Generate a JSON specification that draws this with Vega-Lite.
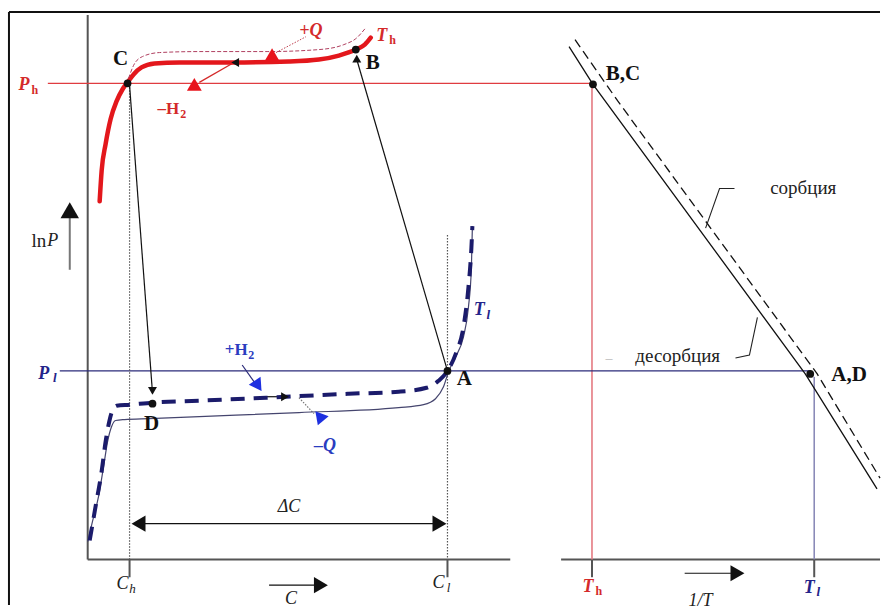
{
  "$schema": "https://vega.github.io/schema/vega-lite/v6.json",
  "width": 883,
  "height": 610,
  "padding": 0,
  "autosize": {"type": "fit", "contains": "padding"},
  "background": "white",
  "config": {"view": {"stroke": null}, "text": {"font": "'Liberation Serif', 'DejaVu Serif', serif"}},
  "encoding": {
    "x": {"field": "x", "type": "quantitative", "scale": {"domain": [0, 883], "nice": false, "zero": false}, "axis": null},
    "y": {"field": "y", "type": "quantitative", "scale": {"domain": [0, 610], "nice": false, "zero": false, "reverse": true}, "axis": null}
  },
  "layer": [
    {
      "data": {"values": [{"x": 9, "y": 12, "x2": 883, "y2": 12}, {"x": 9, "y": 12, "x2": 9, "y2": 610}]},
      "mark": {"type": "rule", "color": "#111", "strokeWidth": 2},
      "encoding": {"x2": {"field": "x2"}, "y2": {"field": "y2"}}
    },
    {
      "data": {"values": [
        {"x": 88, "y": 15, "x2": 88, "y2": 564},
        {"x": 88, "y": 564, "x2": 512, "y2": 564},
        {"x": 563, "y": 564, "x2": 883, "y2": 564},
        {"x": 130, "y": 564, "x2": 130, "y2": 582},
        {"x": 449, "y": 564, "x2": 449, "y2": 582},
        {"x": 594, "y": 564, "x2": 594, "y2": 582},
        {"x": 817, "y": 564, "x2": 817, "y2": 582}
      ]},
      "mark": {"type": "rule", "color": "#555", "strokeWidth": 2},
      "encoding": {"x2": {"field": "x2"}, "y2": {"field": "y2"}}
    },
    {
      "data": {"values": [{"x": 48, "y": 84, "x2": 594, "y2": 84}]},
      "mark": {"type": "rule", "color": "#e03c40", "strokeWidth": 1.3},
      "encoding": {"x2": {"field": "x2"}, "y2": {"field": "y2"}}
    },
    {
      "data": {"values": [{"x": 594, "y": 84, "x2": 594, "y2": 564}]},
      "mark": {"type": "rule", "color": "#e57a82", "strokeWidth": 1.6},
      "encoding": {"x2": {"field": "x2"}, "y2": {"field": "y2"}}
    },
    {
      "data": {"values": [{"x": 60, "y": 374, "x2": 813, "y2": 374}]},
      "mark": {"type": "rule", "color": "#2b2b7a", "strokeWidth": 1.2},
      "encoding": {"x2": {"field": "x2"}, "y2": {"field": "y2"}}
    },
    {
      "data": {"values": [{"x": 817, "y": 380, "x2": 817, "y2": 564}]},
      "mark": {"type": "rule", "color": "#8a8ab8", "strokeWidth": 1.6},
      "encoding": {"x2": {"field": "x2"}, "y2": {"field": "y2"}}
    },
    {
      "data": {"values": [{"x": 130, "y": 88, "x2": 130, "y2": 564}, {"x": 449, "y": 237, "x2": 449, "y2": 564}]},
      "mark": {"type": "rule", "color": "#555", "strokeWidth": 1.2, "strokeDash": [1.5, 1.5]},
      "encoding": {"x2": {"field": "x2"}, "y2": {"field": "y2"}}
    },
    {
      "data": {"values": [
        {"x": 130, "y": 86, "x2": 153, "y2": 396},
        {"x": 449, "y": 374, "x2": 358, "y2": 60},
        {"x": 140, "y": 528, "x2": 440, "y2": 528},
        {"x": 270, "y": 590, "x2": 318, "y2": 590},
        {"x": 687, "y": 578, "x2": 736, "y2": 578},
        {"x": 262, "y": 400, "x2": 282, "y2": 400},
        {"x": 240, "y": 63, "x2": 252, "y2": 63}
      ]},
      "mark": {"type": "rule", "color": "#111", "strokeWidth": 1.2},
      "encoding": {"x2": {"field": "x2"}, "y2": {"field": "y2"}}
    },
    {
      "data": {"values": [{"x": 70, "y": 272, "x2": 70, "y2": 215}]},
      "mark": {"type": "rule", "color": "#777", "strokeWidth": 2},
      "encoding": {"x2": {"field": "x2"}, "y2": {"field": "y2"}}
    },
    {
      "data": {"values": [{"x": 233, "y": 64, "x2": 200, "y2": 83}]},
      "mark": {"type": "rule", "color": "#d42a2a", "strokeWidth": 1.3},
      "encoding": {"x2": {"field": "x2"}, "y2": {"field": "y2"}}
    },
    {
      "data": {"values": [{"x": 277, "y": 53, "x2": 307, "y2": 37}]},
      "mark": {"type": "rule", "color": "#c04050", "strokeWidth": 1, "strokeDash": [1.5, 1.5]},
      "encoding": {"x2": {"field": "x2"}, "y2": {"field": "y2"}}
    },
    {
      "data": {"values": [{"x": 243, "y": 368, "x2": 255, "y2": 385}]},
      "mark": {"type": "rule", "color": "#2b2b7a", "strokeWidth": 1.2},
      "encoding": {"x2": {"field": "x2"}, "y2": {"field": "y2"}}
    },
    {
      "data": {"values": [{"x": 300, "y": 401, "x2": 315, "y2": 417}]},
      "mark": {"type": "rule", "color": "#777", "strokeWidth": 1.2, "strokeDash": [1.5, 1.5]},
      "encoding": {"x2": {"field": "x2"}, "y2": {"field": "y2"}}
    },
    {
      "data": {"values": [
        {"o": 0, "x": 100, "y": 203}, {"o": 1, "x": 102, "y": 172}, {"o": 2, "x": 106, "y": 145},
        {"o": 3, "x": 111, "y": 120}, {"o": 4, "x": 117, "y": 102}, {"o": 5, "x": 123, "y": 90},
        {"o": 6, "x": 128, "y": 83}, {"o": 7, "x": 134, "y": 75}, {"o": 8, "x": 142, "y": 68},
        {"o": 9, "x": 155, "y": 64}, {"o": 10, "x": 180, "y": 63}, {"o": 11, "x": 233, "y": 63},
        {"o": 12, "x": 290, "y": 62}, {"o": 13, "x": 320, "y": 60}, {"o": 14, "x": 340, "y": 56},
        {"o": 15, "x": 357, "y": 50}, {"o": 16, "x": 366, "y": 45}, {"o": 17, "x": 372, "y": 38}
      ]},
      "mark": {"type": "line", "interpolate": "monotone", "color": "#e3171c", "strokeWidth": 4.5, "strokeCap": "round"},
      "encoding": {"order": {"field": "o"}}
    },
    {
      "data": {"values": [
        {"o": 0, "x": 129, "y": 79}, {"o": 1, "x": 134, "y": 66}, {"o": 2, "x": 143, "y": 57},
        {"o": 3, "x": 160, "y": 53}, {"o": 4, "x": 200, "y": 52}, {"o": 5, "x": 268, "y": 52},
        {"o": 6, "x": 320, "y": 50}, {"o": 7, "x": 345, "y": 45}, {"o": 8, "x": 357, "y": 39},
        {"o": 9, "x": 367, "y": 28}
      ]},
      "mark": {"type": "line", "interpolate": "monotone", "color": "#b04060", "strokeWidth": 1, "strokeDash": [4, 2]},
      "encoding": {"order": {"field": "o"}}
    },
    {
      "data": {"values": [
        {"o": 0, "x": 88, "y": 546}, {"o": 1, "x": 93, "y": 525}, {"o": 2, "x": 99, "y": 500},
        {"o": 3, "x": 104, "y": 470}, {"o": 4, "x": 108, "y": 445}, {"o": 5, "x": 112, "y": 430},
        {"o": 6, "x": 116, "y": 424}, {"o": 7, "x": 125, "y": 423}, {"o": 8, "x": 150, "y": 422},
        {"o": 9, "x": 200, "y": 420}, {"o": 10, "x": 300, "y": 416}, {"o": 11, "x": 400, "y": 411},
        {"o": 12, "x": 425, "y": 408}, {"o": 13, "x": 437, "y": 402}, {"o": 14, "x": 445, "y": 390},
        {"o": 15, "x": 450, "y": 375}, {"o": 16, "x": 457, "y": 360}, {"o": 17, "x": 465, "y": 340},
        {"o": 18, "x": 470, "y": 310}, {"o": 19, "x": 473, "y": 270}, {"o": 20, "x": 474, "y": 228}
      ]},
      "mark": {"type": "line", "interpolate": "monotone", "color": "#45456e", "strokeWidth": 1.2},
      "encoding": {"order": {"field": "o"}}
    },
    {
      "data": {"values": [
        {"o": 0, "x": 90, "y": 545}, {"o": 1, "x": 96, "y": 510}, {"o": 2, "x": 102, "y": 475},
        {"o": 3, "x": 106, "y": 445}, {"o": 4, "x": 109, "y": 428}, {"o": 5, "x": 112, "y": 416},
        {"o": 6, "x": 117, "y": 409}, {"o": 7, "x": 130, "y": 408}, {"o": 8, "x": 153, "y": 406},
        {"o": 9, "x": 200, "y": 404}, {"o": 10, "x": 267, "y": 401}, {"o": 11, "x": 350, "y": 397},
        {"o": 12, "x": 400, "y": 395}, {"o": 13, "x": 428, "y": 391}, {"o": 14, "x": 440, "y": 384},
        {"o": 15, "x": 449, "y": 374}, {"o": 16, "x": 458, "y": 355}, {"o": 17, "x": 465, "y": 330},
        {"o": 18, "x": 470, "y": 290}, {"o": 19, "x": 473, "y": 250}, {"o": 20, "x": 474, "y": 228}
      ]},
      "mark": {"type": "line", "interpolate": "monotone", "color": "#1b1b6b", "strokeWidth": 4, "strokeDash": [14, 9]},
      "encoding": {"order": {"field": "o"}}
    },
    {
      "data": {"values": [
        {"o": 0, "x": 571, "y": 47}, {"o": 1, "x": 595, "y": 85}, {"o": 2, "x": 808, "y": 377}, {"o": 3, "x": 880, "y": 493}
      ]},
      "mark": {"type": "line", "color": "#111", "strokeWidth": 1.3},
      "encoding": {"order": {"field": "o"}}
    },
    {
      "data": {"values": [
        {"o": 0, "x": 577, "y": 40}, {"o": 1, "x": 620, "y": 102}, {"o": 2, "x": 820, "y": 377}, {"o": 3, "x": 883, "y": 482}
      ]},
      "mark": {"type": "line", "color": "#111", "strokeWidth": 1.3, "strokeDash": [9, 5]},
      "encoding": {"order": {"field": "o"}}
    },
    {
      "data": {"values": [
        {"id": "s", "o": 0, "x": 737, "y": 190}, {"id": "s", "o": 1, "x": 722, "y": 190}, {"id": "s", "o": 2, "x": 708, "y": 230},
        {"id": "d", "o": 0, "x": 738, "y": 361}, {"id": "d", "o": 1, "x": 752, "y": 358}, {"id": "d", "o": 2, "x": 760, "y": 320}
      ]},
      "mark": {"type": "line", "color": "#222", "strokeWidth": 1.1},
      "encoding": {"order": {"field": "o"}, "detail": {"field": "id"}}
    },
    {
      "data": {"values": [
        {"x": 139, "y": 528, "dir": "left"}, {"x": 441, "y": 528, "dir": "right"},
        {"x": 322, "y": 590, "dir": "right"}, {"x": 740, "y": 578, "dir": "right"}
      ]},
      "mark": {"type": "point", "filled": true, "color": "#111", "size": 260, "opacity": 1},
      "encoding": {"shape": {"field": "dir", "type": "nominal", "scale": {"domain": ["up", "down", "left", "right"], "range": ["triangle-up", "triangle-down", "triangle-left", "triangle-right"]}, "legend": null}}
    },
    {
      "data": {"values": [
        {"x": 70, "y": 212, "dir": "up"}
      ]},
      "mark": {"type": "point", "filled": true, "color": "#111", "size": 340, "opacity": 1},
      "encoding": {"shape": {"field": "dir", "type": "nominal", "scale": {"domain": ["up", "down", "left", "right"], "range": ["triangle-up", "triangle-down", "triangle-left", "triangle-right"]}, "legend": null}}
    },
    {
      "data": {"values": [
        {"x": 153, "y": 394, "dir": "down"}, {"x": 358, "y": 59, "dir": "up"},
        {"x": 286, "y": 400, "dir": "right"}, {"x": 236, "y": 63, "dir": "left"}
      ]},
      "mark": {"type": "point", "filled": true, "color": "#111", "size": 80, "opacity": 1},
      "encoding": {"shape": {"field": "dir", "type": "nominal", "scale": {"domain": ["up", "down", "left", "right"], "range": ["triangle-up", "triangle-down", "triangle-left", "triangle-right"]}, "legend": null}}
    },
    {
      "data": {"values": [{"x": 273, "y": 55}, {"x": 195, "y": 85}]},
      "mark": {"type": "point", "filled": true, "shape": "triangle-up", "color": "#e8141c", "size": 220, "opacity": 1}
    },
    {
      "data": {"values": [{"x": 259, "y": 389}]},
      "mark": {"type": "point", "filled": true, "shape": "triangle-up", "angle": 146, "color": "#1e30e0", "size": 200, "opacity": 1}
    },
    {
      "data": {"values": [{"x": 321, "y": 423}]},
      "mark": {"type": "point", "filled": true, "shape": "triangle-up", "angle": 200, "color": "#1e30e0", "size": 200, "opacity": 1}
    },
    {
      "data": {"values": [
        {"x": 128, "y": 84}, {"x": 357, "y": 50}, {"x": 449, "y": 374}, {"x": 153, "y": 407}, {"x": 595, "y": 85}, {"x": 813, "y": 377}
      ]},
      "mark": {"type": "point", "filled": true, "shape": "circle", "color": "#111", "size": 60, "opacity": 1}
    },
    {
      "data": {"values": [
        {"x": 121, "y": 59, "t": "C"}, {"x": 374, "y": 64, "t": "B"}, {"x": 152, "y": 428, "t": "D"},
        {"x": 466, "y": 382, "t": "A"}, {"x": 625, "y": 75, "t": "B,C"}, {"x": 852, "y": 378, "t": "A,D"}
      ]},
      "mark": {"type": "text", "fontSize": 21, "fontWeight": "bold", "color": "#111", "align": "center", "baseline": "middle"},
      "encoding": {"text": {"field": "t"}}
    },
    {
      "data": {"values": [
        {"x": 24, "y": 86, "t": "P"}, {"x": 312, "y": 31, "t": "+Q"}, {"x": 383, "y": 36, "t": "T"}, {"x": 590, "y": 592, "t": "T"}
      ]},
      "mark": {"type": "text", "fontSize": 18, "fontWeight": "bold", "fontStyle": "italic", "color": "#d42a2a", "align": "center", "baseline": "middle"},
      "encoding": {"text": {"field": "t"}}
    },
    {
      "data": {"values": [
        {"x": 35, "y": 91, "t": "h"}, {"x": 394, "y": 40, "t": "h"}, {"x": 601, "y": 596, "t": "h"}
      ]},
      "mark": {"type": "text", "fontSize": 12, "fontWeight": "bold", "color": "#d42a2a", "align": "center", "baseline": "middle"},
      "encoding": {"text": {"field": "t"}}
    },
    {
      "data": {"values": [{"x": 169, "y": 110, "t": "–H"}]},
      "mark": {"type": "text", "fontSize": 17, "fontWeight": "bold", "color": "#d42a2a", "align": "center", "baseline": "middle"},
      "encoding": {"text": {"field": "t"}}
    },
    {
      "data": {"values": [{"x": 184, "y": 115, "t": "2"}]},
      "mark": {"type": "text", "fontSize": 12, "fontWeight": "bold", "color": "#d42a2a", "align": "center", "baseline": "middle"},
      "encoding": {"text": {"field": "t"}}
    },
    {
      "data": {"values": [{"x": 237, "y": 353, "t": "+H"}]},
      "mark": {"type": "text", "fontSize": 17, "fontWeight": "bold", "color": "#2a3cc0", "align": "center", "baseline": "middle"},
      "encoding": {"text": {"field": "t"}}
    },
    {
      "data": {"values": [{"x": 252, "y": 358, "t": "2"}]},
      "mark": {"type": "text", "fontSize": 12, "fontWeight": "bold", "color": "#2a3cc0", "align": "center", "baseline": "middle"},
      "encoding": {"text": {"field": "t"}}
    },
    {
      "data": {"values": [{"x": 326, "y": 450, "t": "–Q"}]},
      "mark": {"type": "text", "fontSize": 18, "fontWeight": "bold", "fontStyle": "italic", "color": "#2a3cc0", "align": "center", "baseline": "middle"},
      "encoding": {"text": {"field": "t"}}
    },
    {
      "data": {"values": [
        {"x": 44, "y": 377, "t": "P"}, {"x": 481, "y": 313, "t": "T"}, {"x": 812, "y": 593, "t": "T"}
      ]},
      "mark": {"type": "text", "fontSize": 18, "fontWeight": "bold", "fontStyle": "italic", "color": "#24248a", "align": "center", "baseline": "middle"},
      "encoding": {"text": {"field": "t"}}
    },
    {
      "data": {"values": [
        {"x": 55, "y": 381, "t": "l"}, {"x": 490, "y": 318, "t": "l"}, {"x": 821, "y": 597, "t": "l"}
      ]},
      "mark": {"type": "text", "fontSize": 13, "fontWeight": "bold", "fontStyle": "italic", "color": "#24248a", "align": "center", "baseline": "middle"},
      "encoding": {"text": {"field": "t"}}
    },
    {
      "data": {"values": [
        {"x": 292, "y": 604, "t": "C"}, {"x": 123, "y": 589, "t": "C"}, {"x": 440, "y": 588, "t": "C"},
        {"x": 290, "y": 511, "t": "ΔC"}, {"x": 703, "y": 606, "t": "1/T"}, {"x": 53, "y": 243, "t": "P"}
      ]},
      "mark": {"type": "text", "fontSize": 18, "fontStyle": "italic", "color": "#222", "align": "center", "baseline": "middle"},
      "encoding": {"text": {"field": "t"}}
    },
    {
      "data": {"values": [
        {"x": 133, "y": 594, "t": "h"}, {"x": 450, "y": 593, "t": "l"}
      ]},
      "mark": {"type": "text", "fontSize": 13, "fontStyle": "italic", "color": "#222", "align": "center", "baseline": "middle"},
      "encoding": {"text": {"field": "t"}}
    },
    {
      "data": {"values": [
        {"x": 39, "y": 243, "t": "ln"}, {"x": 806, "y": 190, "t": "сорбция"}, {"x": 680, "y": 359, "t": "десорбция"}
      ]},
      "mark": {"type": "text", "fontSize": 19, "color": "#222", "align": "center", "baseline": "middle"},
      "encoding": {"text": {"field": "t"}}
    },
    {
      "data": {"values": [{"x": 611, "y": 362, "t": "–"}]},
      "mark": {"type": "text", "fontSize": 14, "color": "#bbb", "align": "center", "baseline": "middle"},
      "encoding": {"text": {"field": "t"}}
    }
  ]
}
